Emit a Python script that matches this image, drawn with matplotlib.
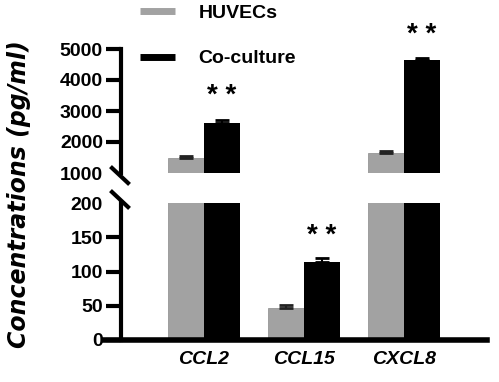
import matplotlib.pyplot as plt
from matplotlib.lines import Line2D
import numpy as np

plt.rcParams['font.family'] = ['Liberation Sans', 'DejaVu Sans']
plt.rcParams['font.weight'] = 'bold'

GENES = ['CCL2', 'CCL15', 'CXCL8']
HUVEC = [1480, 47, 1650]
HUVEC_ERR = [60, 4, 60]
COCULT = [2600, 114, 4650]
COCULT_ERR = [120, 5, 50]
SERIES = ['HUVECs', 'Co-culture']
STARS = ['* *', '* *', '* *']

GRAY = '#a2a2a2'
W = 0.36


def main():
    fig = plt.figure(figsize=(4.99, 3.82), dpi=100)
    ax_top = fig.add_axes([121 / 499, 1 - 173 / 382, 366 / 499, 124 / 382])
    ax_bot = fig.add_axes([121 / 499, 1 - 340 / 382, 366 / 499, 137 / 382])

    x = np.arange(len(GENES))
    for ax in (ax_top, ax_bot):
        ax.bar(x - W / 2, HUVEC, W, color=GRAY, edgecolor='#8a8a8a', linewidth=0.5,
               yerr=[np.zeros(3), HUVEC_ERR], error_kw=dict(ecolor='#222222', elinewidth=1.5, capsize=5, capthick=2))
        ax.bar(x + W / 2, COCULT, W, color='black',
               yerr=[np.zeros(3), COCULT_ERR], error_kw=dict(ecolor='black', elinewidth=1.5, capsize=5, capthick=2))
        ax.set_xlim(-0.83, 2.83)
        for s in ('top', 'right'):
            ax.spines[s].set_visible(False)
        ax.spines['left'].set_linewidth(3)
        ax.tick_params(axis='y', direction='out', length=11, width=3, labelsize=14, pad=2)
        ax.tick_params(axis='x', length=0)

    ax_top.set_ylim(1000, 5000)
    ax_top.set_yticks([1000, 2000, 3000, 4000, 5000])
    ax_top.spines['bottom'].set_visible(False)
    ax_top.set_xticks([])
    ax_top.yaxis.get_major_ticks()[0].tick1line.set_visible(False)

    ax_bot.set_ylim(0, 200)
    ax_bot.set_yticks([0, 50, 100, 150, 200])
    ax_bot.yaxis.get_major_ticks()[-1].tick1line.set_visible(False)
    ax_bot.spines['bottom'].set_linewidth(4)
    ax_bot.spines['bottom'].set_bounds(-1.0, 2.83)
    ax_bot.spines['bottom'].set_clip_on(False)
    ax_bot.set_xticks(x)
    ax_bot.set_xticklabels(GENES, fontsize=14, style='italic', fontweight='bold')
    ax_bot.tick_params(axis='x', pad=8)

    # break marks
    for y0 in (168, 192):
        fig.add_artist(Line2D([112 / 499, 128 / 499], [1 - y0 / 382, 1 - (y0 + 15) / 382],
                              color='black', lw=3, transform=fig.transFigure))

    # significance stars
    ax_top.text(0 + W / 2, 3480, STARS[0], ha='center', va='center', fontsize=20, clip_on=False)
    ax_top.text(2 + W / 2, 5450, STARS[2], ha='center', va='center', fontsize=20, clip_on=False)
    ax_bot.text(1 + W / 2, 152, STARS[1], ha='center', va='center', fontsize=20, clip_on=False)

    handles = [Line2D([], [], color=GRAY, lw=5, solid_capstyle='butt'),
               Line2D([], [], color='black', lw=5, solid_capstyle='butt')]
    fig.legend(handles, SERIES, loc='upper left', bbox_to_anchor=(140 / 499, 1 - 4 / 382), frameon=False,
               fontsize=14, handlelength=1.8, handletextpad=1.2, labelspacing=1.45, borderpad=0,
               borderaxespad=0)

    fig.text(19 / 499, 1 - 194 / 382, 'Concentrations (pg/ml)', rotation=90, ha='center', va='center',
             fontsize=17, style='italic', fontweight='bold', family='DejaVu Sans')

    fig.savefig('out.png')


if __name__ == '__main__':
    main()
